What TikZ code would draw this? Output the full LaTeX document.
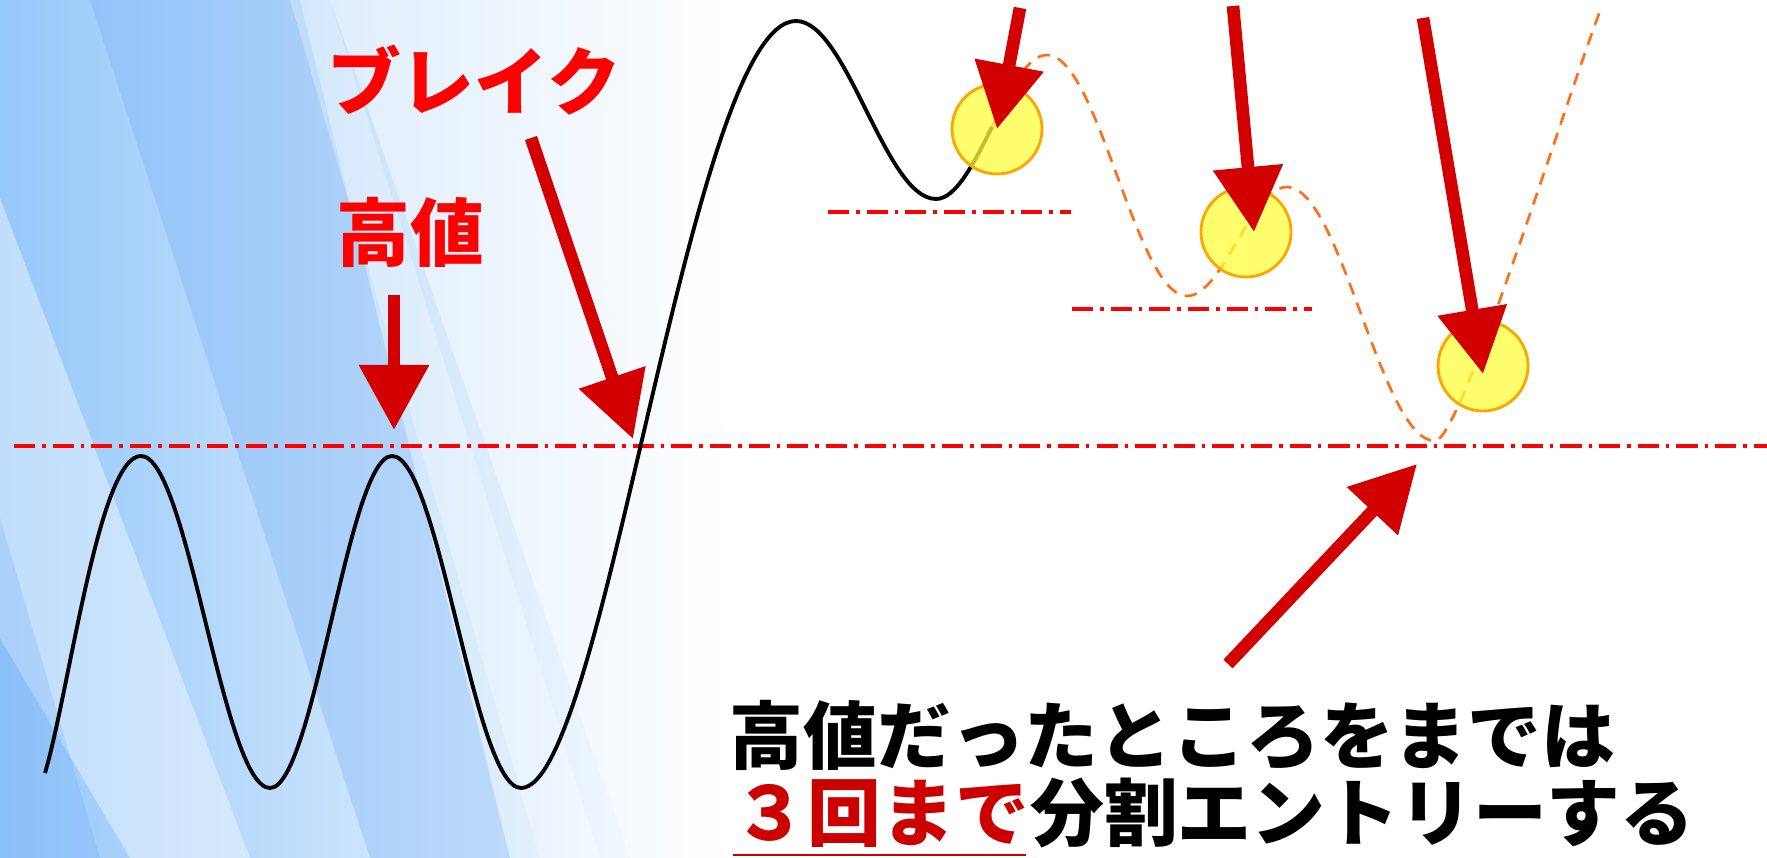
\documentclass[tikz,border=0pt]{standalone}
\usepackage{fontspec}
\usetikzlibrary{arrows.meta}

\newfontfamily\jpfont{Noto Sans CJK JP}

\definecolor{skyblue}{RGB}{150,200,250}
\definecolor{deepblue}{RGB}{110,170,245}
\definecolor{arrowred}{RGB}{210,0,0}
\definecolor{cntred}{RGB}{205,0,0}
\definecolor{ghostorange}{RGB}{255,110,20}
\definecolor{ringorange}{RGB}{255,165,0}
\definecolor{ringyellow}{RGB}{255,255,60}

\begin{document}
\begin{tikzpicture}[
    wave/.style = {line width=1.1pt, black},
    ghost/.style = {line width=0.75pt, ghostorange, dash pattern=on 3.5pt off 2.5pt},
    hiline/.style = {line width=1pt, red, dash pattern=on 6pt off 2pt on 1pt off 2pt},
    ring/.style = {circle, draw=ringorange, line width=0.8pt, fill=ringyellow, fill opacity=0.75, minimum size=0.9cm, inner sep=0pt},
    pointer/.style = {arrowred, line width=3.6pt, -{Triangle[length=0.65cm, width=0.67cm]}},
    jptext/.style = {font=\jpfont\bfseries\fontsize{21}{24}\selectfont, inner sep=0pt},
  ]
  \useasboundingbox (0,0) rectangle (17.67,8.58);

  % background
  \begin{scope}
    \shade[left color=skyblue, right color=white] (0,0) rectangle (7.3,8.58);
    \fill[deepblue, opacity=.3] (0.9,8.58) -- (3.0,8.58) -- (5.1,0) -- (3.7,0) -- cycle;
    \fill[white, opacity=.4] (0,6.6) -- (0,2.2) -- (1.3,0) -- (2.5,0) -- cycle;
    \fill[white, opacity=.3] (2.9,8.58) -- (3.3,8.58) -- (6.0,0) -- (5.4,0) -- cycle;
    \fill[white, opacity=.45] (3.3,8.58) -- (7.3,8.58) -- (7.3,0) -- (6.3,0) -- cycle;
    \fill[deepblue, opacity=.25] (0,3.4) -- (0,0) -- (1.0,0) -- cycle;
  \end{scope}

  % levels
  \draw[hiline] (0.14,4.12) -- (17.67,4.12);
  \draw[hiline] (8.28,6.46) -- (10.71,6.46);
  \draw[hiline] (10.72,5.49) -- (13.12,5.49);

  % price
  \draw[wave] (0.45,0.85) .. controls (0.70,1.70) and (0.99,4.02) .. (1.41,4.02)
    .. controls (1.88,4.02) and (2.23,0.70) .. (2.70,0.70)
    .. controls (3.14,0.70) and (3.48,4.02) .. (3.92,4.02)
    .. controls (4.39,4.02) and (4.74,0.70) .. (5.21,0.70)
    .. controls (6.05,0.70) and (6.90,8.37) .. (7.96,8.37)
    .. controls (8.47,8.37) and (8.85,6.59) .. (9.36,6.59)
    .. controls (9.56,6.59) and (9.74,6.95) .. (9.92,7.31);
  \draw[ghost] (9.92,7.31) .. controls (10.09,7.67) and (10.27,8.03) .. (10.47,8.03)
    .. controls (10.98,8.03) and (11.36,5.62) .. (11.87,5.62)
    .. controls (12.23,5.62) and (12.51,6.71) .. (12.87,6.71)
    .. controls (13.41,6.71) and (13.81,4.17) .. (14.35,4.17)
    .. controls (14.60,4.17) and (15.60,7.40) .. (16.00,8.47);

  % entries
  \node[ring] (e1) at (9.97,7.29) {};
  \node[ring] (e2) at (12.46,6.26) {};
  \node[ring] (e3) at (14.83,4.92) {};

  % texts
  \node[jptext, red] (brk) at (4.74,7.78) {ブレイク};
  \node[jptext, red] (hi) at (4.10,6.26) {高値};
  \node[jptext, anchor=west] (note) at (7.29,1.23) {高値だったところをまでは};
  \node[jptext, cntred, anchor=west] (cnt) at (7.33,0.44) {３回まで};
  \node[jptext, anchor=base west] (ent) at (cnt.base east) {分割エントリーする};
  \draw[cntred, line width=0.8pt] (7.33,0.03) -- (10.26,0.03);

  % arrows
  \coordinate (hi tail) at (3.94,5.63);
  \coordinate (hi tip) at (3.94,4.28);
  \coordinate (brk tail) at (5.31,7.20);
  \coordinate (brk tip) at (6.33,4.19);
  \coordinate (e1 tail) at (10.20,8.50);
  \coordinate (e2 tail) at (12.33,8.52);
  \coordinate (e3 tail) at (14.23,8.40);
  \coordinate (low tail) at (12.28,1.94);
  \coordinate (low tip) at (14.17,3.94);
  \draw[pointer] (hi tail) -- (hi tip);
  \draw[pointer] (brk tail) -- (brk tip);
  \draw[pointer] (e1 tail) -- (e1.center);
  \draw[pointer] (e2 tail) -- ([xshift=0.08cm]e2.center);
  \draw[pointer] (e3 tail) -- ([yshift=-0.08cm]e3.center);
  \draw[pointer] (low tail) -- (low tip);
\end{tikzpicture}
\end{document}
